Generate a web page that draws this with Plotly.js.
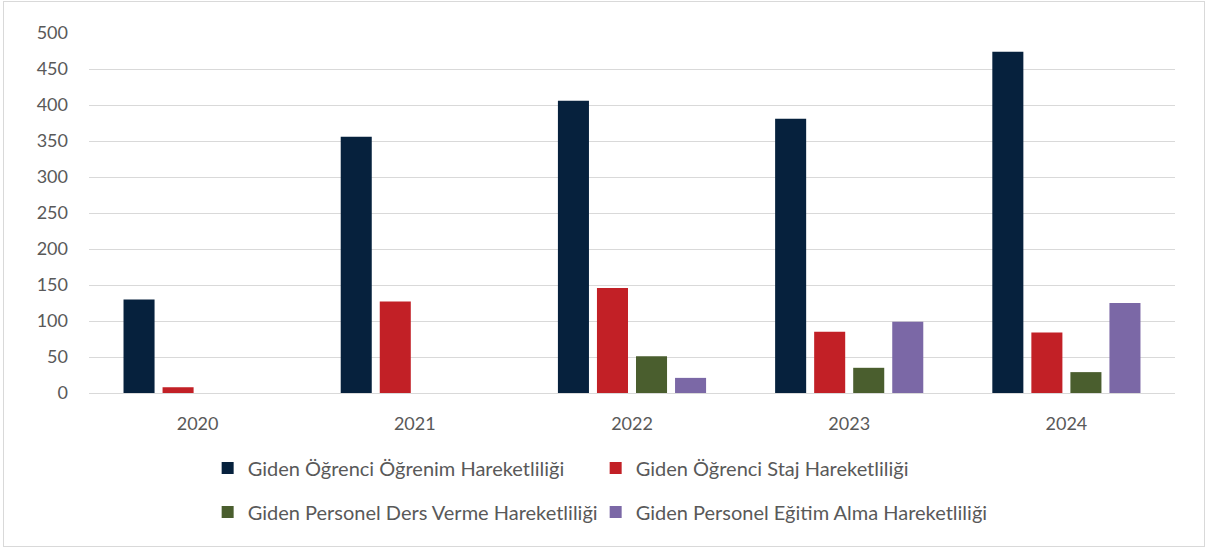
<!DOCTYPE html>
<html><head><meta charset="utf-8">
<script src="https://cdn.plot.ly/plotly-3.0.1.min.js"></script>
<style>html,body{margin:0;padding:0;background:#fff}#frame{position:absolute;left:3px;top:1px;width:1202px;height:546px;border:1px solid #d9d9d9;box-sizing:border-box;pointer-events:none}</style>
</head><body>
<div id="chart" style="width:1208px;height:550px;"></div>
<div id="frame"></div>
<script>
const years = ['2020','2021','2022','2023','2024'];
const seriesNames = ['Giden Öğrenci Öğrenim Hareketliliği','Giden Öğrenci Staj Hareketliliği','Giden Personel Ders Verme Hareketliliği','Giden Personel Eğitim Alma Hareketliliği'];
const ogrenim = [130, 356, 406, 381, 474];
const staj = [8, 127, 146, 85, 84];
const dersVerme = [null, null, 51, 35, 29];
const egitimAlma = [null, null, 21, 99, 125];
const colors = ['#06213D','#C22026','#4A5E2E','#7B68A6'];
const vals = [ogrenim, staj, dersVerme, egitimAlma];
const legends = ['legend','legend2','legend3','legend4'];
const traces = vals.map((v,i)=>({type:'bar', x:years, y:v, name:seriesNames[i], marker:{color:colors[i]}, legend:legends[i], hoverinfo:'x+y'}));
const legFont = {family:'Lato, sans-serif', size:20, color:'#595959'};
const legPos = [[0.1719, 468],[0.4931, 468],[0.1719, 512],[0.4931, 512]];
const layout = {
  width:1208, height:550,
  margin:{l:89, r:33, t:32.5, b:156.5},
  paper_bgcolor:'#fff', plot_bgcolor:'#fff',
  barmode:'group', bargap:0.281, bargroupgap:0.205,
  font:{family:'Lato, sans-serif', size:18, color:'#595959'},
  xaxis:{showgrid:false, showline:true, linecolor:'#d9d9d9', linewidth:1, ticks:'', tickfont:{size:18,color:'#595959'}, ticklabelstandoff:14},
  yaxis:{range:[0,500], dtick:50, showgrid:true, gridcolor:'#d9d9d9', gridwidth:1, zeroline:false, showline:false, ticks:'', tickfont:{size:18,color:'#595959'}, ticklabelstandoff:20},
  showlegend:true
};
legends.forEach((k,i)=>{
  layout[k] = {orientation:'h', xref:'container', yref:'container', x:legPos[i][0], xanchor:'left', y:1-legPos[i][1]/550, yanchor:'middle', font:legFont, itemclick:false, bgcolor:'rgba(0,0,0,0)'};
});
Plotly.newPlot('chart', traces, layout, {displayModeBar:false, staticPlot:true});
</script>
</body></html>
